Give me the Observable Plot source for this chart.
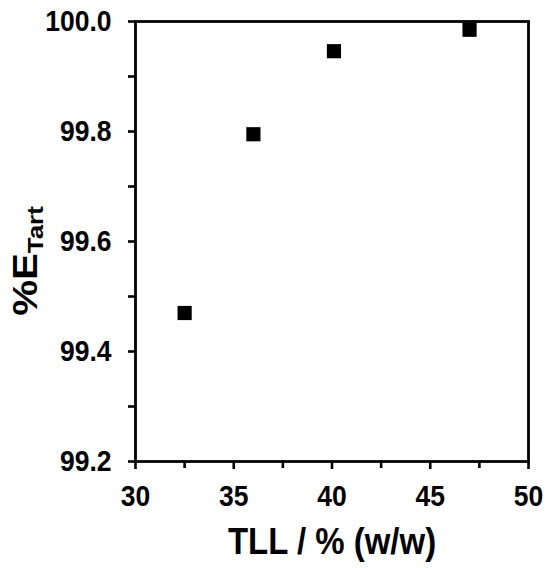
<!DOCTYPE html>
<html>
<head>
<meta charset="utf-8">
<script src="https://cdn.jsdelivr.net/npm/d3@7"></script>
<script src="https://cdn.jsdelivr.net/npm/@observablehq/plot@0.6"></script>
<style>
  html, body { margin: 0; padding: 0; background: #fff; }
</style>
</head>
<body>
<div id="chart"></div>
<script>
const tll = [32.5, 36.0, 40.1, 47.0];
const eTart = [99.47, 99.795, 99.946, 99.985];

const xMajor = [30, 35, 40, 45, 50];
const xMinor = [32.5, 37.5, 42.5, 47.5];
const yMajor = [99.2, 99.4, 99.6, 99.8, 100.0];
const yMinor = [99.3, 99.5, 99.7, 99.9];

const xLabel = "TLL / % (w/w)";
const yLabelMain = "%E";
const yLabelSub = "Tart";

const data = tll.map((x, i) => ({x, y: eTart[i]}));

const font = "'Liberation Sans', Arial, Helvetica, sans-serif";
const tickStyle = {stroke: "#000", strokeOpacity: 1, strokeWidth: 2.6};

const svg = Plot.plot({
  width: 550,
  height: 568,
  marginLeft: 135,
  marginRight: 22,
  marginTop: 21,
  marginBottom: 107,
  style: {fontFamily: font, fontWeight: "bold", fontSize: "26.5px", color: "#000", background: "#fff"},
  x: {domain: [30, 50]},
  y: {domain: [99.2, 100.0]},
  marks: [
    Plot.axisX({ticks: xMajor, tickSize: 8, tickPadding: 17, tickFormat: d => String(d), label: null, fill: "#000", className: "stretch", ...tickStyle}),
    Plot.axisX({ticks: xMinor, tickSize: 7, tickFormat: () => "", label: null, ...tickStyle}),
    Plot.axisY({ticks: yMajor, tickSize: 7, tickPadding: 17, tickFormat: d3.format(".1f"), label: null, fill: "#000", className: "stretch", ...tickStyle}),
    Plot.axisY({ticks: yMinor, tickSize: 7, tickFormat: () => "", label: null, ...tickStyle}),
    Plot.frame({stroke: "#000", strokeWidth: 2.8}),
    Plot.dot(data, {x: "x", y: "y", symbol: "square", r: 8, fill: "#000", stroke: "none"}),
    Plot.text([xLabel], {frameAnchor: "bottom", dy: 91, lineAnchor: "bottom", fontSize: 33, fontWeight: "bold", fill: "#000", className: "stretch"})
  ]
});

// y-axis label with subscript
const s = d3.select(svg);
const t = s.append("text")
  .attr("transform", "translate(37,261) rotate(-90) scale(1.15,1)")
  .attr("text-anchor", "middle")
  .attr("fill", "#000")
  .style("font-family", font)
  .style("font-weight", "bold");
t.append("tspan").attr("font-size", 35).text(yLabelMain);
t.append("tspan").attr("font-size", 22.5).attr("dy", 6).text(yLabelSub);

document.getElementById("chart").appendChild(svg);

// slight vertical stretch of tick and axis-label text, as in the reference
s.selectAll(".stretch text").each(function () {
  const b = this.getBBox();
  const cy = b.y + b.height / 2;
  const orig = this.getAttribute("transform") || "";
  this.setAttribute("transform", `${orig} translate(0,${cy}) scale(1,1.12) translate(0,${-cy})`);
});
</script>
</body>
</html>
